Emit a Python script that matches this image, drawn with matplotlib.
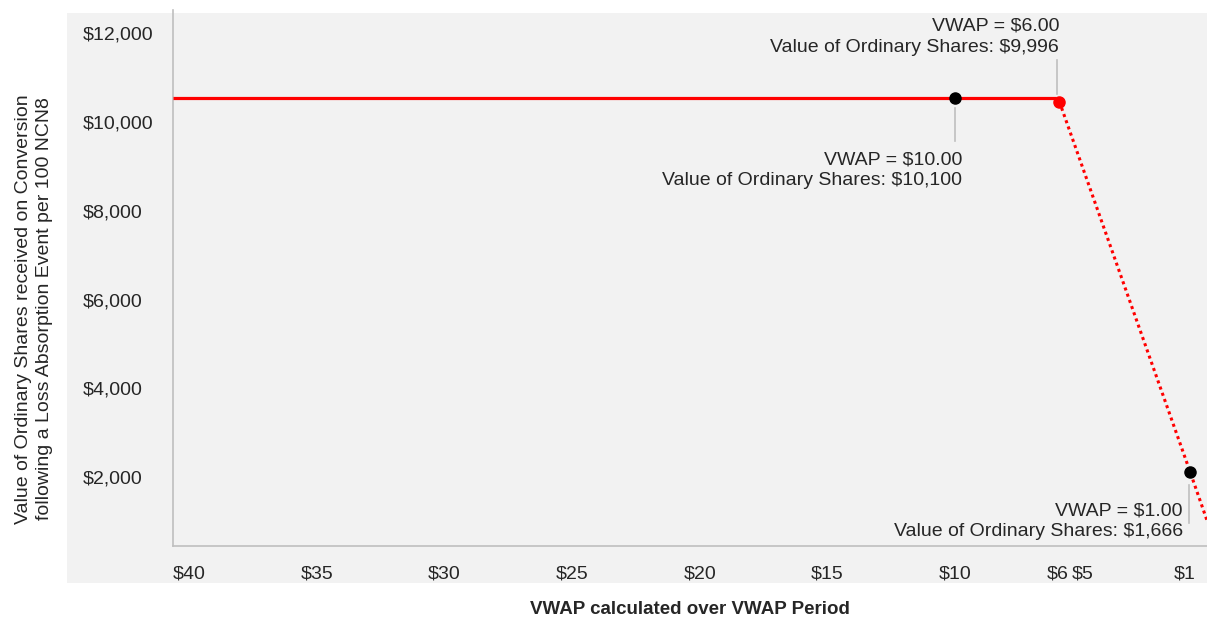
import matplotlib
matplotlib.use("Agg")
import matplotlib.pyplot as plt
from matplotlib.patches import Rectangle

plt.rcParams['font.family'] = ['Liberation Sans', 'DejaVu Sans']

# ---- data ----
x_ticks = [40, 35, 30, 25, 20, 15, 10, 6, 5, 1]
x_tick_labels = ["$40", "$35", "$30", "$25", "$20", "$15", "$10", "$6", "$5", "$1"]
y_ticks = [2000, 4000, 6000, 8000, 10000, 12000]
y_tick_labels = ["$2,000", "$4,000", "$6,000", "$8,000", "$10,000", "$12,000"]

solid_vwap = [40.63, 6.04]
solid_value = [10530, 10530]
dotted_vwap = [5.92, 0.80, 0.14]
dotted_value = [10450, 2120, 1030]
black_vwap = [10.0, 0.80]
black_value = [10530, 2120]
red_vwap = [5.92]
red_value = [10450]

ann_texts = ["VWAP = $10.00\nValue of Ordinary Shares: $10,100",
             "VWAP = $6.00\nValue of Ordinary Shares: $9,996",
             "VWAP = $1.00\nValue of Ordinary Shares: $1,666"]
ann_anchor_vwap = [10.0, 6.0, 0.80]
ann_anchor_value = [10530, 10530, 2120]

# ---- figure ----
W, H, DPI = 1207, 619, 100
FS = 14
fig = plt.figure(figsize=(W / DPI, H / DPI), dpi=DPI)
fig.patch.set_facecolor("white")
fig.patches.append(Rectangle((67 / W, 1 - 583 / H), (W - 67) / W, (583 - 13) / H,
                             transform=fig.transFigure, facecolor="#f2f2f2",
                             edgecolor="none", zorder=-10))

ax = fig.add_axes([173 / W, 1 - 546 / H, (W - 173) / W, (546 - 10) / H])
ax.set_facecolor("none")
ax.set_xlim(40.63, 0.14)
ax.set_ylim(455, 12513)

for s in ["top", "right"]:
    ax.spines[s].set_visible(False)
for s in ["left", "bottom"]:
    ax.spines[s].set_color("#bfbfbf")
    ax.spines[s].set_linewidth(1.2)

txt_color = "#262626"
ax.set_xticks(x_ticks)
ax.set_xticklabels(x_tick_labels)
ax.set_yticks(y_ticks)
ax.set_yticklabels(y_tick_labels)
ax.tick_params(axis="both", length=0, labelsize=FS, colors=txt_color)
ax.tick_params(axis="x", pad=14)
ax.tick_params(axis="y", pad=(173 - 83) * 0.72)
for lab in ax.get_yticklabels():
    lab.set_horizontalalignment("left")

ax.plot(solid_vwap, solid_value, color="#ff0000", lw=2.3, solid_capstyle="butt", zorder=3)
ax.plot(dotted_vwap, dotted_value, color="#ff0000", lw=2.2, linestyle=(0, (1, 1.15)), zorder=3)
ax.plot(black_vwap, black_value, "o", color="black", markersize=8, zorder=5)
ax.plot(red_vwap, red_value, "o", color="#ff0000", markersize=8, zorder=5)

ax.set_xlabel("VWAP calculated over VWAP Period", fontsize=13.5, fontweight="bold",
              color=txt_color, labelpad=13)
fig.text(34 / W, 1 - 309 / H,
         "Value of Ordinary Shares received on Conversion\nfollowing a Loss Absorption Event per 100 NCN8",
         rotation=90, ha="center", va="center", fontsize=FS, color=txt_color,
         linespacing=1.3, multialignment="center")

# annotations (offsets in pixels, image y downward)
fig.canvas.draw()
tD = ax.transData
inv = tD.inverted()


def px_to_data(x, y, dx, dy):
    d = tD.transform((x, y))
    return inv.transform((d[0] + dx, d[1] - dy))


leader = [(0, 9.4, 42.7), (-0.6, -38.3, -4.3), (-1, 13, 50.7)]
text_off = [(7, 72.2), (1.7, -61.5), (-7.3, 49.4)]
for i in range(3):
    x0, y0 = ann_anchor_vwap[i], ann_anchor_value[i]
    lx, ly1, ly2 = leader[i]
    p1 = px_to_data(x0, y0, lx, ly1)
    p2 = px_to_data(x0, y0, lx, ly2)
    ax.plot([p1[0], p2[0]], [p1[1], p2[1]], color="#bfbfbf", lw=1.2, zorder=2)
    tx, ty = text_off[i]
    pt = px_to_data(x0, y0, tx, ty)
    ax.text(pt[0], pt[1], ann_texts[i], ha="right", va="center", fontsize=FS,
            color=txt_color, linespacing=1.3, multialignment="right")

fig.savefig("out.png", dpi=DPI)
